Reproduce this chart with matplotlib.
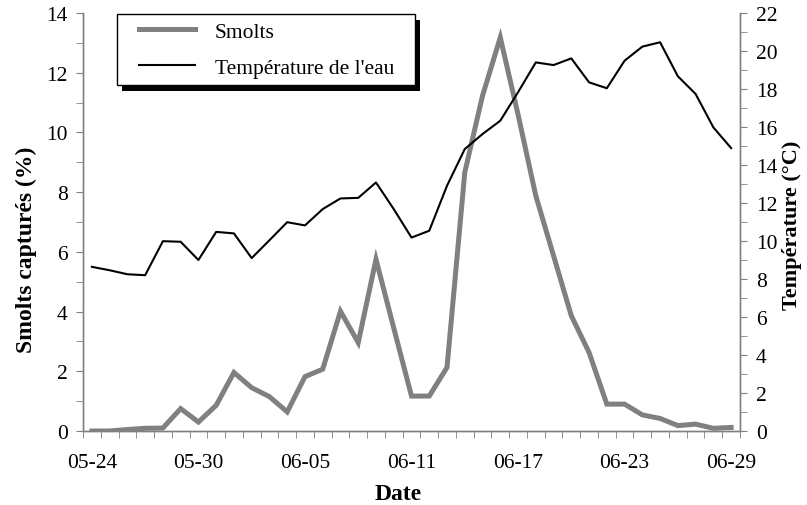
import numpy as np
import pandas as pd
import matplotlib
matplotlib.use("Agg")
import matplotlib.pyplot as plt
from matplotlib.patches import Rectangle

plt.rcParams['font.family'] = ['Liberation Serif', 'DejaVu Serif']

# daily categories 05-24 .. 06-29
dates = pd.date_range('2000-05-24', '2000-06-29', freq='D')
date_labels = [d.strftime('%m-%d') for d in dates]

smolts = [0.0, 0.0, 0.05, 0.09, 0.1, 0.75, 0.3, 0.86, 1.96, 1.45,
          1.15, 0.64, 1.82, 2.07, 4.01, 2.96, 5.75, 3.45, 1.17, 1.17,
          2.13, 8.66, 11.23, 13.18, 10.6, 7.88, 5.87, 3.86, 2.63, 0.9,
          0.9, 0.54, 0.42, 0.18, 0.23, 0.09, 0.12]
temperature = [8.64, 8.46, 8.25, 8.2, 9.99, 9.96, 9.0, 10.48, 10.4, 9.1,
               10.04, 10.99, 10.82, 11.68, 12.24, 12.27, 13.08, 11.68, 10.18, 10.54,
               12.91, 14.84, 15.63, 16.33, 17.83, 19.4, 19.26, 19.61, 18.35, 18.04,
               19.49, 20.23, 20.46, 18.67, 17.74, 15.98, 14.89]

x = np.arange(len(dates))
fs = 15.5
lfs = 17
axis_col = '#808080'

fig = plt.figure(figsize=(8.07, 5.06), dpi=100)
ax = fig.add_axes([83/807, 1 - 432/506, (740-83)/807, (432-14)/506])
ax2 = ax.twinx()

l1, = ax.plot(x, smolts, color='#808080', lw=3.6, solid_joinstyle='miter', label='Smolts')
l2, = ax2.plot(x, temperature, color='black', lw=1.5, label="Température de l'eau")

ax.set_xlim(-0.5, len(x) - 0.5)
ax.set_ylim(0, 14)
ax2.set_ylim(0, 22)

ax.set_xticks(x[::6])
ax.set_xticklabels(date_labels[::6], fontsize=fs)
ax.set_xticks(np.arange(-0.5, len(x), 1), minor=True)
ax.tick_params(axis='x', which='major', length=0, pad=16)
ax.tick_params(axis='x', which='minor', length=5, direction='out', color=axis_col)

ax.set_yticks(np.arange(0, 15, 2))
ax.set_yticks(np.arange(0, 15, 1), minor=True)
ax.tick_params(axis='y', which='both', length=5, color=axis_col, labelsize=fs, pad=6)
ax2.set_yticks(np.arange(0, 23, 2))
ax2.set_yticks(np.arange(0, 23, 1), minor=True)
ax2.tick_params(axis='y', which='both', length=5, color=axis_col, labelsize=fs, pad=6.5)

for a in (ax, ax2):
    a.spines['top'].set_visible(False)
    for s in ('left', 'right', 'bottom'):
        a.spines[s].set_color(axis_col)
        a.spines[s].set_linewidth(1.0)

ax.set_xlabel('Date', fontsize=lfs, fontweight='bold')
ax.xaxis.set_label_coords(0.479, -0.125)
ax.set_ylabel('Smolts capturés (%)', fontsize=lfs, fontweight='bold')
ax.yaxis.set_label_coords(-0.07, 0.435)
ax2.set_ylabel('Température (°C)', fontsize=16, fontweight='bold')
ax2.yaxis.set_label_coords(1.064, 0.495)

leg = ax2.legend([l1, l2], [l1.get_label(), l2.get_label()], loc='upper left',
                 bbox_to_anchor=(0.0852, 0.9797), fontsize=fs, frameon=False,
                 handlelength=2.6, handletextpad=0.93, labelspacing=0.75,
                 borderpad=0, borderaxespad=0)
leg.set_zorder(10)

# legend box with solid black drop shadow
fig.canvas.draw()
bb = leg.get_window_extent()
x0, x1 = bb.x0 - 22, bb.x1 + 21
y0, y1 = bb.y0 - 7, bb.y1 + 7
shadow = Rectangle((x0 + 5, y0 - 6), x1 - x0, y1 - y0, transform=None,
                   facecolor='black', edgecolor='none', zorder=8)
frame = Rectangle((x0, y0), x1 - x0, y1 - y0, transform=None,
                  facecolor='white', edgecolor='black', lw=1.0, zorder=9)
ax2.add_artist(shadow)
ax2.add_artist(frame)

fig.savefig('out.png', dpi=100)
